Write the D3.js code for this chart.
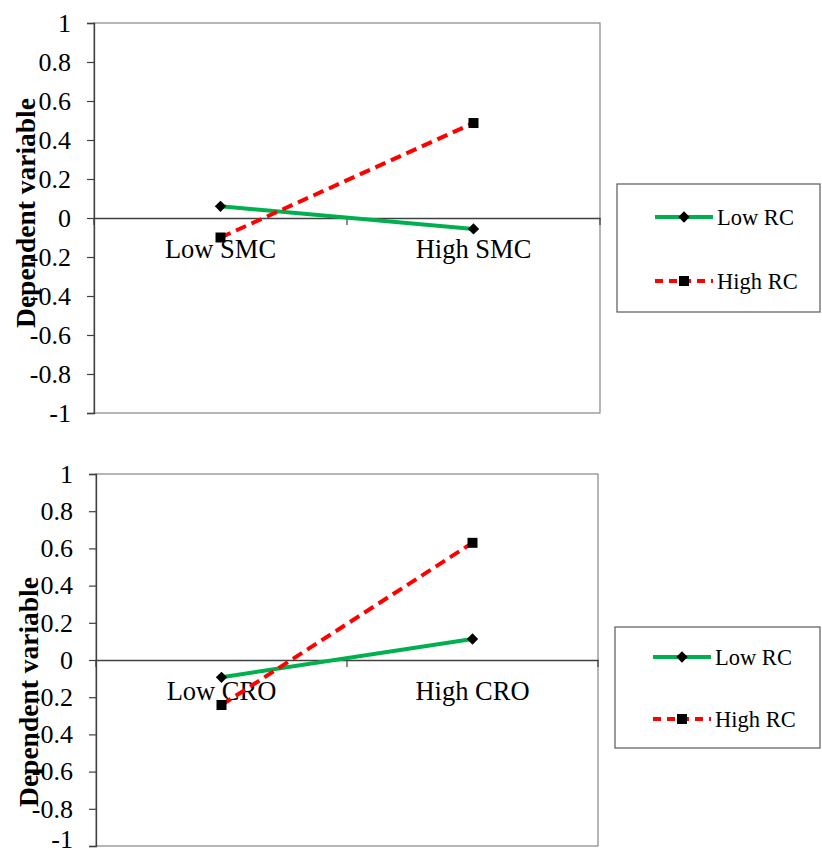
<!DOCTYPE html>
<html>
<head>
<meta charset="utf-8">
<script src="https://cdn.jsdelivr.net/npm/d3@7"></script>
<style>
  html, body { margin: 0; padding: 0; background: #fff; }
  svg { display: block; font-family: "Liberation Serif", "Times New Roman", serif; }
</style>
</head>
<body>
<svg id="chart" width="822" height="853"></svg>
<script>
// ---- data ----
const categoriesTop = ["Low SMC", "High SMC"];
const categoriesBottom = ["Low CRO", "High CRO"];
const seriesNames = ["Low RC", "High RC"];
const topLowRC = [0.06, -0.056];
const topHighRC = [-0.1, 0.487];
const bottomLowRC = [-0.093, 0.113];
const bottomHighRC = [-0.242, 0.63];
const yTicks = [1, 0.8, 0.6, 0.4, 0.2, 0, -0.2, -0.4, -0.6, -0.8, -1];
const yLabel = "Dependent variable";

const seriesColors = ["#00B050", "#FF0000"];
const seriesDash = [null, "11,6"];

const svg = d3.select("#chart");

function drawPanel(cfg) {
  const g = svg.append("g");
  const x = d3.scalePoint().domain(cfg.categories).range([cfg.left, cfg.right]).padding(0.5);
  const y = d3.scaleLinear().domain([-1, 1]).range([cfg.bottom, cfg.top]);

  // plot area border
  g.append("rect")
    .attr("x", cfg.left).attr("y", cfg.top)
    .attr("width", cfg.right - cfg.left).attr("height", cfg.bottom - cfg.top)
    .attr("fill", "none").attr("stroke", "#868686").attr("stroke-width", 1.2);

  // y axis
  const yAxis = d3.axisLeft(y).tickValues(yTicks).tickSize(7).tickPadding(16)
    .tickFormat(d => String(d));
  const ya = g.append("g").attr("transform", `translate(${cfg.left},0)`).call(yAxis);
  ya.select(".domain").attr("stroke", "#404040").attr("stroke-width", 1.3);
  ya.selectAll(".tick line").attr("stroke", "#404040").attr("stroke-width", 1.2);
  ya.selectAll(".tick text").attr("font-size", 26).attr("fill", "#000")
    .attr("font-family", "Liberation Serif")
    .attr("dy", d => (cfg.nudgeLast && d === -1) ? "0.06em" : "0.32em");

  // zero category axis
  const xBand = d3.scaleBand().domain(cfg.categories).range([cfg.left, cfg.right]);
  const xAxis = d3.axisBottom(xBand).tickSize(0).tickPadding(21);
  const xa = g.append("g").attr("transform", `translate(0,${y(0)})`).call(xAxis);
  xa.select(".domain").attr("stroke", "#404040").attr("stroke-width", 1.3);
  xa.selectAll(".tick text").attr("font-size", 26.5).attr("fill", "#000")
    .attr("font-family", "Liberation Serif");
  // category divider ticks
  const dividers = [cfg.left, xBand(cfg.categories[1]), cfg.right];
  g.selectAll(".cdiv").data(dividers).enter().append("line")
    .attr("x1", d => d).attr("x2", d => d)
    .attr("y1", y(0)).attr("y2", y(0) + 7)
    .attr("stroke", "#404040").attr("stroke-width", 1.2);

  // y label
  g.append("text")
    .attr("transform", `translate(${cfg.labelX},${(y(1) + y(-1)) / 2 + cfg.labelDy}) rotate(-90)`)
    .attr("text-anchor", "middle").attr("dominant-baseline", "central")
    .attr("font-size", 27.5).attr("font-weight", "bold").text(yLabel);

  // series
  const line = d3.line().x((d, i) => x(cfg.categories[i])).y(d => y(d));
  cfg.series.forEach((vals, si) => {
    g.append("path").datum(vals)
      .attr("d", line).attr("fill", "none")
      .attr("stroke", seriesColors[si]).attr("stroke-width", 4)
      .attr("stroke-dasharray", seriesDash[si]);
  });
  cfg.series.forEach((vals, si) => {
    g.selectAll(".m" + si).data(vals).enter().append("path")
      .attr("d", si === 0 ? d3.symbol(d3.symbolSquare, 64)() : d3.symbol(d3.symbolSquare, 100)())
      .attr("transform", (d, i) => `translate(${x(cfg.categories[i])},${y(d)})` + (si === 0 ? " rotate(45)" : ""))
      .attr("fill", "#000");
  });

  // legend
  const L = cfg.legend;
  g.append("rect").attr("x", L.x).attr("y", L.y).attr("width", L.w).attr("height", L.h)
    .attr("fill", "#fff").attr("stroke", "#595959").attr("stroke-width", 1.2);
  seriesNames.forEach((name, si) => {
    const ly = L.rows[si];
    g.append("line").attr("x1", L.lx1).attr("x2", L.lx2).attr("y1", ly).attr("y2", ly)
      .attr("stroke", seriesColors[si]).attr("stroke-width", 4)
      .attr("stroke-dasharray", si === 1 ? "8,6" : null);
    const mx = (L.lx1 + L.lx2) / 2;
    g.append("path")
      .attr("d", si === 0 ? d3.symbol(d3.symbolSquare, 64)() : d3.symbol(d3.symbolSquare, 100)())
      .attr("transform", `translate(${mx},${ly})` + (si === 0 ? " rotate(45)" : ""))
      .attr("fill", "#000");
    g.append("text").attr("x", L.lx2 + 4).attr("y", ly).attr("dominant-baseline", "central")
      .attr("font-size", 22.5).text(name);
  });
}

drawPanel({
  categories: categoriesTop,
  series: [topLowRC, topHighRC],
  left: 94, right: 600, top: 23, bottom: 413,
  labelX: 25, labelDy: -5, nudgeLast: false,
  legend: { x: 617, y: 184, w: 203, h: 128, lx1: 655, lx2: 713, rows: [217, 281] }
});

drawPanel({
  categories: categoriesBottom,
  series: [bottomLowRC, bottomHighRC],
  left: 96, right: 598, top: 474, bottom: 846,
  labelX: 28, labelDy: 32, nudgeLast: true,
  legend: { x: 615, y: 627, w: 205, h: 121, lx1: 653, lx2: 711, rows: [657, 719] }
});
</script>
</body>
</html>
